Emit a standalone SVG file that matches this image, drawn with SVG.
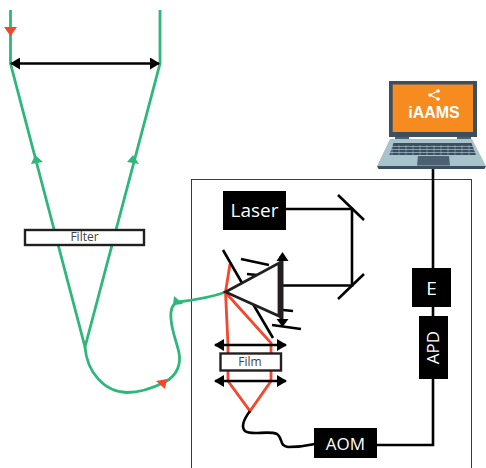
<svg xmlns="http://www.w3.org/2000/svg" width="486" height="468" viewBox="0 0 486 468">
<defs>
<style>
.g{fill:none;stroke:#2fb77b;stroke-width:2.8}
.gf{fill:#2fb77b}
.r{fill:none;stroke:#f4472e;stroke-width:2.8}
.rf{fill:#f4472e}
.k{fill:none;stroke:#000;stroke-width:2.6}
.box{fill:#000}
.wt{font-family:"Open Sans","Noto Sans",sans-serif;fill:#fff;text-anchor:middle}
.lb{font-family:"Open Sans","Noto Sans",sans-serif;fill:#444;font-size:12px;text-anchor:middle}
.opt{fill:#fff;stroke:#231f20;stroke-width:2.4}
</style>
<marker id="ah" viewBox="0 0 10 12" refX="9" refY="6" markerUnits="userSpaceOnUse" markerWidth="10" markerHeight="12" orient="auto-start-reverse"><path d="M0 0L10 6L0 12Z" fill="#000"/></marker>
</defs>
<rect id="enclosure" x="191.500" y="179.500" width="280" height="300" fill="none" stroke="#3a3a3a" stroke-width="1"/>
<g id="connectors">
<path class="g" d="M10.500 10V63.500L85 347L160 63.500V10"/>
<path class="g" d="M85 347C87 372 104 392 127 392.500C142 392.500 155 387 165 382C178 375 181 363 179 353C177 343 172 332 171 319C170 309 172 304 178 302C195 300 212 297 226 292"/>
<path class="r" d="M230 264L225.500 292L228 345V381L250 411L271 381V343L226 293"/>
<path class="k" d="M250 411C244 419 241 427 245 431C251 436 268 430 277 434C283 438 279 446 288 447C298 447 306 446 315 444"/>
<path class="k" d="M377 445H433V168"/>
<path class="k" d="M286 209H352V285.500H281"/>
<path class="k" d="M338 195L364 220M364 274L338 299"/>
<path class="k" d="M223 250L242 283M241 259L269 265M247 274L257 275M253 304L273 338M283 310L293 311M272 325L301 329"/>
<path d="M11 63.500H159" class="k" marker-start="url(#ah)" marker-end="url(#ah)"/>
<path d="M215 345H286" class="k" marker-start="url(#ah)" marker-end="url(#ah)"/>
<path d="M215 381H286" class="k" marker-start="url(#ah)" marker-end="url(#ah)"/>
<path d="M281.500 256V322" fill="none" stroke="#231f20" stroke-width="4"/>
<path d="M282.500 252L288.500 261H276.500ZM282.500 327L288.500 319H276.500Z" fill="#000"/>
<path class="rf" d="M4 27H17L10.500 36ZM156 381L167 379L165 389Z"/>
<path class="gf" d="M31 164L43 162L35 155ZM127 162L139 164L133 155ZM174 296L183 304L173 305Z"/>
</g>
<g id="prism"><path d="M225.500 292L279 263V316Z" fill="#fff" stroke="#231f20" stroke-width="2.800"/></g>
<g id="filter"><rect class="opt" x="25" y="230" width="119" height="15"/><text class="lb" x="84.500" y="241">Filter</text></g>
<g id="film"><rect class="opt" x="220.500" y="353.500" width="60.500" height="17"/><text class="lb" x="250" y="366">Film</text></g>
<g id="laser"><rect class="box" x="223" y="191" width="63" height="39"/><text class="wt" x="254.500" y="217" font-size="19">Laser</text></g>
<g id="aom"><rect class="box" x="314" y="428" width="63" height="30"/><text class="wt" x="345.500" y="450" font-size="17">AOM</text></g>
<g id="e"><rect class="box" x="412" y="268" width="39" height="39"/><text class="wt" x="431.500" y="295" font-size="19">E</text></g>
<g id="apd"><rect class="box" x="419" y="316" width="29" height="63"/><text class="wt" transform="translate(439 347.500) rotate(-90)" font-size="17">APD</text></g>
<g id="laptop">
<path d="M390 139H472L486 166H377Z" fill="#a8c3cc"/>
<path d="M377 166H486L484.500 169H378.500Z" fill="#3c4f60"/>
<rect x="389" y="81" width="88" height="56" fill="#3c4f60"/>
<rect x="392.700" y="84.500" width="80.300" height="47.500" fill="#f68b1f"/>
<rect x="395" y="137" width="14" height="2" fill="#4c6272"/><rect x="457" y="137" width="14" height="2" fill="#4c6272"/>
<path d="M393.500 143H471.500L476 155H389.500Z" fill="#3c4f60"/>
<path d="M392 146.500H473M391 149.500H474.500M390 152.500H475.500" stroke="#a8c3cc" stroke-width=".7" fill="none"/>
<path d="M392 145V155M399 145V155M406 145V155M413 145V155M420 145V155M427 145V155M434 145V155M441 145V155M448 145V155M455 145V155M462 145V155M469 145V155" stroke="#a8c3cc" stroke-width=".5" fill="none"/>
<path d="M418 156H449L450 165.500H417Z" fill="#4c6272"/>
<path d="M438 91L430 95L438 99" fill="none" stroke="#fff" stroke-width="1.200"/>
<circle cx="438" cy="91" r="1.800" fill="#fff"/><circle cx="430" cy="95" r="1.800" fill="#fff"/><circle cx="438" cy="99" r="1.800" fill="#fff"/>
<text x="434" y="118" font-family="Liberation Sans,Arial,sans-serif" font-weight="700" font-size="16" fill="#fff" text-anchor="middle">iAAMS</text>
</g>
</svg>
